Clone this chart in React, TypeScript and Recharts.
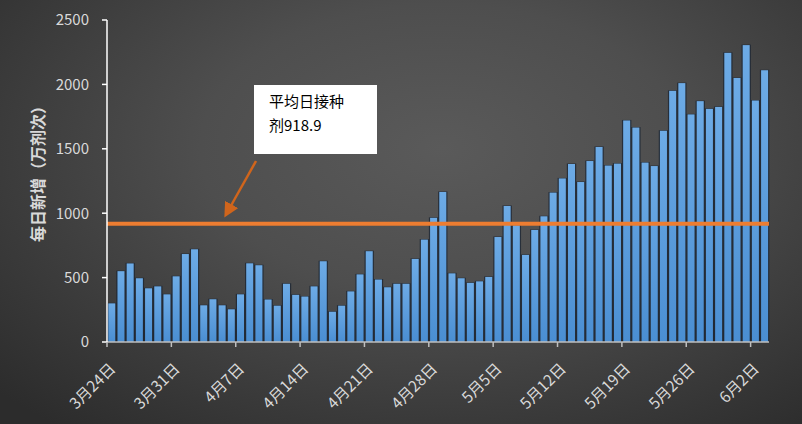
import React from "react";
import { ComposedChart, Bar, XAxis, YAxis, ReferenceLine } from "recharts";

const dates = [
  "3月24日", "3月25日", "3月26日", "3月27日", "3月28日", "3月29日", "3月30日", "3月31日",
  "4月1日", "4月2日", "4月3日", "4月4日", "4月5日", "4月6日", "4月7日", "4月8日", "4月9日", "4月10日",
  "4月11日", "4月12日", "4月13日", "4月14日", "4月15日", "4月16日", "4月17日", "4月18日", "4月19日", "4月20日",
  "4月21日", "4月22日", "4月23日", "4月24日", "4月25日", "4月26日", "4月27日", "4月28日", "4月29日", "4月30日",
  "5月1日", "5月2日", "5月3日", "5月4日", "5月5日", "5月6日", "5月7日", "5月8日", "5月9日", "5月10日",
  "5月11日", "5月12日", "5月13日", "5月14日", "5月15日", "5月16日", "5月17日", "5月18日", "5月19日", "5月20日",
  "5月21日", "5月22日", "5月23日", "5月24日", "5月25日", "5月26日", "5月27日", "5月28日", "5月29日", "5月30日",
  "5月31日", "6月1日", "6月2日", "6月3日"
];

// 每日新增（万剂次）
const dailyDoses = [
  300, 550, 610, 495, 417, 432, 370, 510, 683, 720,
  285, 332, 285, 254, 370, 611, 596, 330, 282, 452,
  366, 353, 432, 627, 235, 282, 393, 525, 705, 485,
  425, 452, 452, 645, 795, 964, 1165, 533, 495, 459,
  471, 505, 815, 1056, 906, 676, 870, 976, 1160, 1270,
  1382, 1242, 1405, 1514, 1370, 1385, 1720, 1665, 1393, 1366,
  1640, 1950, 2010, 1767, 1870, 1810, 1825, 2245, 2050, 2305,
  1875, 2110
];

const averageDoses = 918.9;
const yTicks = [0, 500, 1000, 1500, 2000, 2500];

const data = dates.map((date, i) => ({ date, doses: dailyDoses[i] }));

const W = 802;
const H = 424;
const MARGIN = { top: 20, right: 33, bottom: 0, left: 0 };
const Y_AXIS_W = 107;
const X_AXIS_H = 82;
const BAND = (W - MARGIN.right - Y_AXIS_W) / dates.length;
const FONT = "'Noto Sans CJK SC', 'Noto Sans', sans-serif";
const LABEL = "#d9d9d9";

function XTick(props: any) {
  const { x, y, payload } = props;
  const edge = x - BAND / 2;
  return (
    <g>
      <line x1={edge} x2={edge} y1={y - 5} y2={y} stroke="#bfbfbf" strokeWidth={1.5} />
      <text
        transform={`translate(${x + 1},${y + 19}) rotate(-45)`}
        textAnchor="end"
        dy="0.35em"
        fill={LABEL}
        fontSize={15.5}
        fontFamily={FONT}
      >
        {payload.value}
      </text>
    </g>
  );
}

function BarShape(props: any) {
  const { x, y, width, height } = props;
  if (!height) return null;
  return (
    <g>
      <rect x={x - 1.2} y={y - 0.5} width={width + 2.4} height={height + 0.5} fill="#1a2433" opacity={0.75} />
      <rect x={x} y={y} width={width} height={height} fill="url(#barFill)" />
    </g>
  );
}

export default function App() {
  return (
    <div
      style={{
        position: "absolute",
        left: 0,
        top: 0,
        width: W,
        height: H,
        background:
          "radial-gradient(ellipse 75% 85% at 55% 35%, #5a5a5a 0%, #4e4e4e 40%, #2c2c2c 100%)",
        fontFamily: FONT
      }}
    >
      <ComposedChart width={W} height={H} data={data} margin={MARGIN} barCategoryGap="14%">
        <defs>
          <linearGradient id="barFill" x1="0" y1="0" x2="0" y2="1">
            <stop offset="0%" stopColor="#6dabe6" />
            <stop offset="100%" stopColor="#4a8ed2" />
          </linearGradient>
        </defs>
        <XAxis
          dataKey="date"
          interval={6}
          height={X_AXIS_H}
          axisLine={{ stroke: "#bfbfbf", strokeWidth: 1.5 }}
          tickLine={false}
          tickSize={5}
          tickMargin={0}
          tick={<XTick />}
        />
        <YAxis
          width={Y_AXIS_W}
          domain={[0, 2500]}
          ticks={yTicks}
          axisLine={{ stroke: "#ffffff", strokeWidth: 1.5 }}
          tickLine={{ stroke: "#ffffff", strokeWidth: 1.5 }}
          tickSize={5}
          tickMargin={13}
          tick={{ fill: LABEL, fontSize: 15, fontFamily: FONT }}
          label={{
            content: () => (
              <text
                transform="translate(37,170) rotate(-90)"
                textAnchor="middle"
                dominantBaseline="central"
                fill={LABEL}
                fontSize={16}
                fontWeight="bold"
                fontFamily={FONT}
              >
                每日新增（万剂次）
              </text>
            )
          }}
        />
        <Bar dataKey="doses" shape={<BarShape />} isAnimationActive={false} />
        <ReferenceLine y={averageDoses} stroke="#ed7d31" strokeWidth={4} />
      </ComposedChart>

      {/* annotation */}
      <div
        style={{
          position: "absolute",
          left: 254,
          top: 85,
          width: 123,
          height: 69,
          background: "#ffffff",
          boxSizing: "border-box",
          padding: "4px 0 0 15px",
          fontSize: 15,
          lineHeight: "24px",
          color: "#000"
        }}
      >
        平均日接种
        <br />
        剂{averageDoses}
      </div>
      <svg style={{ position: "absolute", left: 0, top: 0 }} width={W} height={H} pointerEvents="none">
        <defs>
          <marker id="arrowHead" markerWidth="6" markerHeight="6" refX="3" refY="3" orient="auto">
            <path d="M0,0 L6,3 L0,6 Z" fill="#d0651c" />
          </marker>
        </defs>
        <line x1={256} y1={161} x2={228} y2={211} stroke="#d0651c" strokeWidth={2.5} markerEnd="url(#arrowHead)" />
      </svg>
    </div>
  );
}
